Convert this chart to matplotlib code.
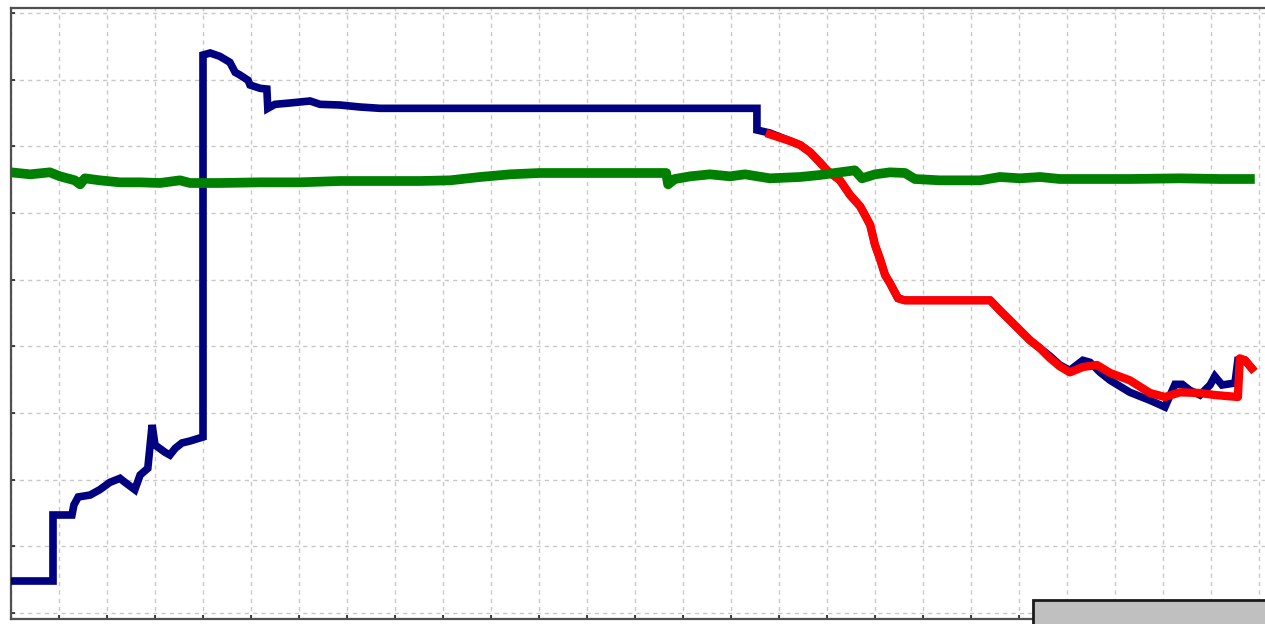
import matplotlib
matplotlib.use("Agg")
import matplotlib.pyplot as plt
from matplotlib.patches import Rectangle

# ---- data (grid units) ----
blue_x = [0, 0.875, 0.875, 1.27, 1.31, 1.40, 1.65, 1.85, 2.06, 2.27, 2.375, 2.58, 2.69, 2.85,
          2.94, 3.0, 3.21, 3.31, 3.42, 3.56, 3.73, 4.0, 4.0, 4.15, 4.35, 4.56, 4.67, 4.77,
          4.94, 4.98, 5.19, 5.33, 5.35, 5.5, 5.81, 6.23, 6.44, 6.85, 7.27, 7.69, 15.54,
          15.54, 15.81, 16.23, 16.44, 16.65, 16.85, 17.0, 17.27, 17.48, 17.69, 17.79, 17.9,
          18.0, 18.1, 18.21, 18.31, 18.48, 18.625, 19.56, 20.4, 20.6, 20.81, 21.02, 21.23,
          21.44, 21.65, 21.85, 22.06, 22.33, 22.48, 22.69, 22.9, 23.31, 23.73, 24.04, 24.25,
          24.4, 24.56, 24.77, 24.98, 25.08, 25.23, 25.5, 25.56, 25.71, 25.85]
blue_y = [0.48, 0.48, 1.47, 1.47, 1.62, 1.74, 1.77, 1.85, 1.96, 2.02, 1.96, 1.85, 2.07, 2.17,
          2.82, 2.52, 2.41, 2.37, 2.47, 2.55, 2.58, 2.64, 8.37, 8.40, 8.35, 8.26, 8.11, 8.07,
          7.99, 7.92, 7.87, 7.86, 7.57, 7.63, 7.65, 7.68, 7.63, 7.62, 7.59, 7.57, 7.57,
          7.245, 7.2, 7.08, 7.02, 6.91, 6.76, 6.64, 6.49, 6.27, 6.10, 5.97, 5.82,
          5.52, 5.32, 5.07, 4.95, 4.72, 4.69, 4.69, 4.69, 4.54, 4.39, 4.24, 4.09,
          3.97, 3.85, 3.72, 3.64, 3.79, 3.76, 3.61, 3.49, 3.31, 3.19, 3.09, 3.43,
          3.43, 3.34, 3.27, 3.42, 3.55, 3.42, 3.45, 3.79, 3.79, 3.67]

red_x = [15.81, 16.23, 16.44, 16.65, 16.85, 17.0, 17.27, 17.48, 17.69, 17.79, 17.9, 18.0,
         18.1, 18.21, 18.31, 18.48, 18.625, 19.56, 20.4, 20.6, 20.81, 21.02, 21.23, 21.44,
         21.65, 21.85, 22.06, 22.33, 22.625, 22.9, 23.31, 23.73, 24.04, 24.35, 24.77, 25.08,
         25.56, 25.6, 25.71, 25.85]
red_y = [7.18, 7.08, 7.02, 6.91, 6.76, 6.64, 6.49, 6.27, 6.10, 5.97, 5.82, 5.52,
         5.32, 5.07, 4.95, 4.72, 4.69, 4.69, 4.69, 4.54, 4.39, 4.24, 4.09, 3.97,
         3.82, 3.70, 3.61, 3.69, 3.72, 3.60, 3.49, 3.30, 3.24, 3.31, 3.30, 3.27,
         3.24, 3.82, 3.79, 3.67]

green_x = [0, 0.4, 0.81, 1.02, 1.33, 1.44, 1.54, 1.85, 2.27, 2.69, 3.1, 3.52, 3.73, 4.35,
           5.19, 6.02, 6.85, 7.69, 8.52, 9.15, 9.77, 10.4, 11.02, 12.27, 13.65, 13.69,
           13.83, 14.15, 14.56, 14.98, 15.29, 15.81, 16.44, 16.85, 17.27, 17.58, 17.73,
           18.0, 18.31, 18.625, 18.83, 19.35, 20.19, 20.6, 21.02, 21.44, 21.85, 22.48,
           23.31, 24.35, 25.19, 25.81]
green_y = [6.61, 6.58, 6.61, 6.55, 6.49, 6.43, 6.52, 6.49, 6.46, 6.46, 6.45, 6.49, 6.45, 6.45,
           6.46, 6.46, 6.48, 6.48, 6.48, 6.49, 6.54, 6.58, 6.60, 6.60, 6.60, 6.43,
           6.51, 6.55, 6.58, 6.55, 6.58, 6.52, 6.54, 6.57, 6.61, 6.64, 6.52,
           6.58, 6.61, 6.60, 6.51, 6.49, 6.49, 6.54, 6.52, 6.54, 6.51, 6.51,
           6.51, 6.52, 6.51, 6.51]

x_ticks = list(range(0, 27))
y_ticks = list(range(0, 10))

# ---- figure ----
W, H = 1265, 624
fig = plt.figure(figsize=(W / 100, H / 100), dpi=100)
left, right, top, bottom = 11, 1275, 8, 619
ax = fig.add_axes([left / W, (H - bottom) / H, (right - left) / W, (bottom - top) / H])
ax.set_xlim(0, (right - left) / 48)
ax.set_ylim(-(bottom - 613) / 66.67, 9 + (13 - top) / 66.67)

ax.set_xticks(x_ticks)
ax.set_yticks(y_ticks)
ax.tick_params(labelleft=False, labelbottom=False, direction='in', length=3,
               width=1.2, color='#202020')
ax.grid(True, color='#c8c8c8', linestyle=(0, (3, 3)), linewidth=1)
ax.set_axisbelow(True)
for s in ax.spines.values():
    s.set_color('#505050')
    s.set_linewidth(1.6)
ax.spines['right'].set_visible(False)

ax.plot(blue_x, blue_y, color='#000080', linewidth=5.5, solid_joinstyle='miter', zorder=3)
ax.plot(red_x, red_y, color='#ff0000', linewidth=6, zorder=4)
ax.plot(green_x, green_y, color='#008000', linewidth=7, zorder=5)

# grey box at bottom right (cut-off legend)
fig.patches.append(Rectangle((1033 / W, -0.02), 0.25, (H - 600) / H + 0.02,
                             transform=fig.transFigure, facecolor='#c0c0c0',
                             edgecolor='#1a1a1a', linewidth=2, zorder=10))

fig.savefig('out.png', dpi=100)
